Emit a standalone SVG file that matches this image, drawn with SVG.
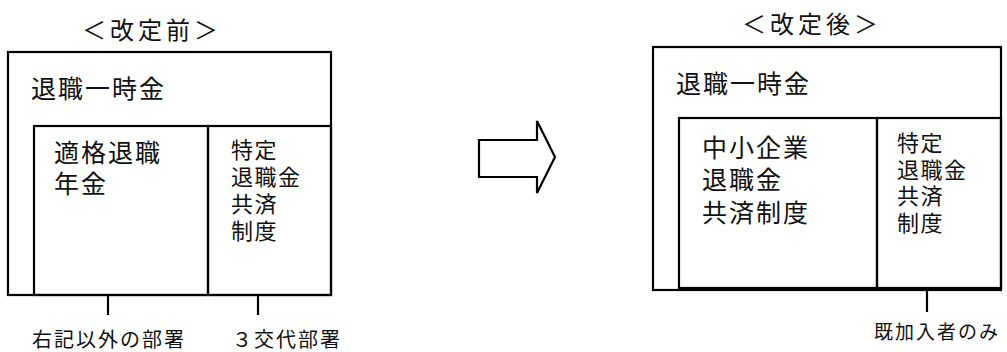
<svg xmlns="http://www.w3.org/2000/svg" width="1007" height="352" viewBox="0 0 1007 352">
<style>
.box{fill:none;stroke:#000;stroke-width:2.2}
.ln{stroke:#000;stroke-width:2.2;fill:none}
text{font-family:"Liberation Sans","Noto Sans CJK JP",sans-serif;fill:#111}
.th{font-size:24px;letter-spacing:4px}
.t23{font-size:25px;letter-spacing:2px}
.t20{font-size:22px;letter-spacing:1.5px}
.t19{font-size:20px;letter-spacing:2px}
.t18{font-size:19px;letter-spacing:2px}
</style>
<rect width="1007" height="352" fill="#fff"/>
<g id="before">
  <text class="th" x="82" y="39">＜改定前＞</text>
  <g id="before-lump">
    <rect class="box" x="8" y="52" width="323" height="243"/>
    <text class="t23" x="31" y="98">退職一時金</text>
  </g>
  <g id="before-tekikaku">
    <rect class="box" x="34" y="126" width="174" height="169"/>
    <text class="t23" x="54" y="162">適格退職</text>
    <text class="t23" x="54" y="193">年金</text>
  </g>
  <g id="before-tokutei">
    <rect class="box" x="208" y="126" width="123" height="169"/>
    <text class="t20" x="231" y="158">特定</text>
    <text class="t20" x="231" y="185">退職金</text>
    <text class="t20" x="231" y="212">共済</text>
    <text class="t20" x="231" y="239">制度</text>
  </g>
  <g id="label-other"><text class="t19" x="32" y="347">右記以外の部署</text></g>
  <g id="label-shift"><text class="t19" x="232" y="347">３交代部署</text></g>
</g>
<g id="arrow">
  <polygon class="box" points="479,140 537,140 537,121 555,157 537,193 537,177 479,177"/>
</g>
<g id="after">
  <text class="th" x="742" y="33">＜改定後＞</text>
  <g id="after-lump">
    <rect class="box" x="653" y="47" width="348" height="243"/>
    <text class="t23" x="676" y="93">退職一時金</text>
  </g>
  <g id="after-chusho">
    <rect class="box" x="679" y="118" width="198" height="170"/>
    <text class="t23" x="702" y="157">中小企業</text>
    <text class="t23" x="702" y="189">退職金</text>
    <text class="t23" x="702" y="222">共済制度</text>
  </g>
  <g id="after-tokutei">
    <rect class="box" x="877" y="118" width="124" height="170"/>
    <text class="t20" x="897" y="151">特定</text>
    <text class="t20" x="897" y="178">退職金</text>
    <text class="t20" x="897" y="204">共済</text>
    <text class="t20" x="897" y="231">制度</text>
  </g>
  <g id="label-existing"><text class="t18" x="874" y="339">既加入者のみ</text></g>
</g>
<g id="connectors">
  <line class="ln" x1="108" y1="295" x2="108" y2="315"/>
  <line class="ln" x1="258" y1="295" x2="258" y2="315"/>
  <line class="ln" x1="927" y1="290" x2="927" y2="312"/>
</g>
</svg>
